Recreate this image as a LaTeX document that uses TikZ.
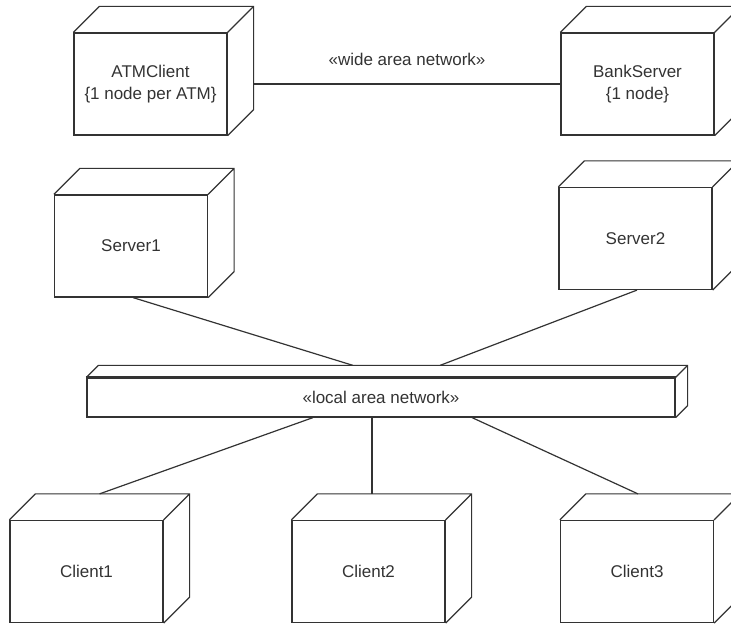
\documentclass[tikz,border=0pt]{standalone}
\usepackage{fontspec}
\setmainfont{Liberation Sans}
\usepackage{xcolor}
\usepackage{tikz}
\definecolor{inkgray}{gray}{0.2}
\tikzstyle{device} = [rectangle, draw=inkgray, line width=1.2pt, minimum width=153pt, minimum height=102pt, align=center, text=inkgray, font=\fontsize{17}{22}\selectfont]
\tikzstyle{bus} = [rectangle, draw=inkgray, line width=1.2pt, minimum width=588pt, minimum height=39pt, text=inkgray, font=\fontsize{17}{22}\selectfont]
\tikzstyle{link} = [draw=inkgray, line width=1.2pt]

\begin{document}
\begin{tikzpicture}[x=1pt,y=1pt]
	\useasboundingbox (0,0) rectangle (731,624);

	\node (atm) [device] at (150.5,540) {ATMClient\\\{1 node per ATM\}};
	\node (bank) [device] at (637.5,540) {BankServer\\\{1 node\}};
	\node (srv1) [device] at (131,378) {Server1};
	\node (srv2) [device] at (635.5,385.5) {Server2};
	\node (lan) [bus] at (381,226.5) {«local area network»};
	\node (cl1) [device] at (86.5,52.5) {Client1};
	\node (cl2) [device] at (368.5,52.5) {Client2};
	\node (cl3) [device] at (637,52.5) {Client3};

	% top and side faces of the boxes
	\foreach \n in {atm,bank,srv1,srv2,cl1,cl2,cl3}
		\draw [link] (\n.north west) -- ++(26,26) -- ([shift={(26,26)}]\n.north east) -- ([shift={(26,26)}]\n.south east) -- (\n.south east) (\n.north east) -- ++(26,26);
	\draw [link] (lan.north west) -- ++(12,12) -- ([shift={(12,12)}]lan.north east) -- ([shift={(12,12)}]lan.south east) -- (lan.south east) (lan.north east) -- ++(12,12);
	\draw [link, line width=1.8pt] (lan.north west) -- (lan.north east);

	\draw [link] ([xshift=26pt]atm.east) -- (bank.west) node [midway, above=14pt, text=inkgray, font=\fontsize{17}{22}\selectfont] {«wide area network»};

	\draw [link] ([xshift=2pt]srv1.south) -- ([shift={(-28,12)}]lan.north);
	\draw [link] ([xshift=1.5pt]srv2.south) -- ([shift={(59,12)}]lan.north);
	\draw [link] ([xshift=-68pt]lan.south) -- ([shift={(13,26)}]cl1.north);
	\draw [link] ([xshift=-9pt]lan.south) -- ([shift={(3.5,26)}]cl2.north);
	\draw [link] ([xshift=91pt]lan.south) -- ([shift={(1,26)}]cl3.north);

\end{tikzpicture}
\end{document}
